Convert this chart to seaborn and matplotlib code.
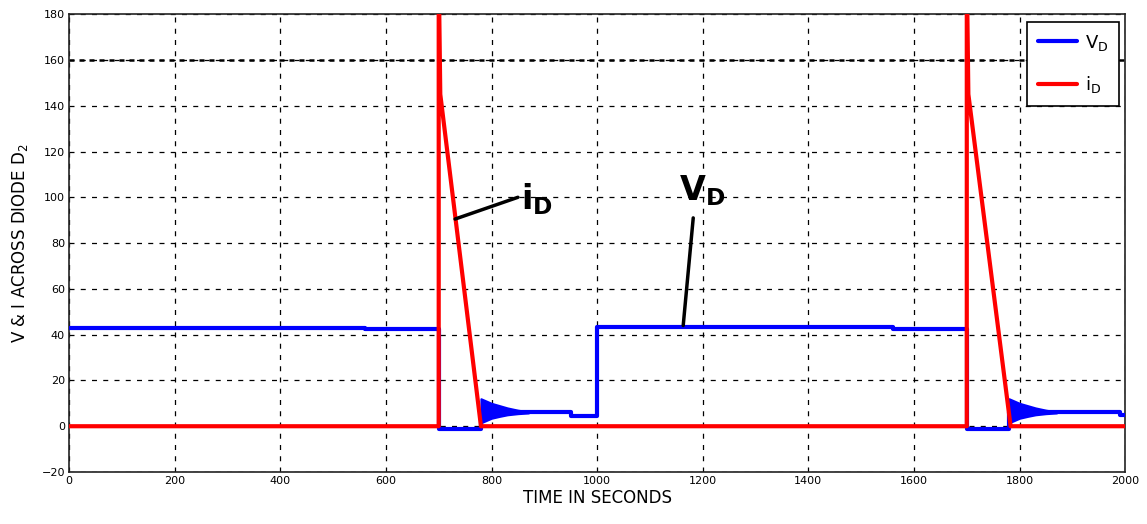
import matplotlib
matplotlib.use("Agg")
import matplotlib.pyplot as plt
import seaborn as sns
import pandas as pd

# ---- data ----
vd_t = [0, 560, 560, 700, 700, 780, 780, 850, 950, 950, 1000, 1000,
        1560, 1560, 1700, 1700, 1780, 1780, 1850, 1990, 1990, 2000]
vd_v = [43, 43, 42.5, 42.5, -1, -1, 6, 6, 6, 4.5, 4.5, 43.5,
        43.5, 42.5, 42.5, -1, -1, 6, 6, 6, 5, 5]

# ringing envelope after the current falls to zero
ring1_t = [780, 790, 800, 815, 830, 850, 870]
ring2_t = [1780, 1790, 1800, 1815, 1830, 1850, 1870]
ring_hi = [12, 11, 10, 9, 8, 7, 6.3]
ring_lo = [1.5, 2.5, 3.5, 4.3, 5, 5.5, 5.8]

id_t = [0, 700, 700, 703, 780, 1700, 1700, 1703, 1783, 2000]
id_v = [0, 0, 200, 145, 0, 0, 200, 145, 0, 0]

x_ticks = list(range(0, 2001, 200))
y_ticks = list(range(-20, 181, 20))

sns.set_style("white")
plt.rcParams["mathtext.fontset"] = "dejavusans"
plt.rcParams["text.color"] = "black"
plt.rcParams["axes.labelcolor"] = "black"
plt.rcParams["xtick.color"] = "black"
plt.rcParams["ytick.color"] = "black"

fig = plt.figure(figsize=(11.47, 5.24), dpi=100)
ax = fig.add_axes([0.0602, 0.0992, 0.9208, 0.8738])

blue = "#0000FF"
red = "#FF0000"

df_v = pd.DataFrame({"t": vd_t, "v": vd_v})
df_i = pd.DataFrame({"t": id_t, "v": id_v})

ax.fill_between(ring1_t, ring_lo, ring_hi, color=blue, lw=1.5, zorder=3)
ax.fill_between(ring2_t, ring_lo, ring_hi, color=blue, lw=1.5, zorder=3)
sns.lineplot(data=df_v, x="t", y="v", ax=ax, color=blue, lw=3,
             sort=False, estimator=None, label=r"V$_\mathrm{D}$", zorder=3)
sns.lineplot(data=df_i, x="t", y="v", ax=ax, color=red, lw=3,
             sort=False, estimator=None, label=r"i$_\mathrm{D}$", zorder=4)

ax.set_xlim(0, 2000)
ax.set_ylim(-20, 180)
ax.set_xticks(x_ticks)
ax.set_yticks(y_ticks)
ax.tick_params(labelsize=8, direction="in", length=4, width=1, pad=3,
               colors="black")
ax.grid(True, color="black", linestyle=(0, (4, 5)), linewidth=0.9)
ax.axhline(160, color="black", linestyle=(0, (2, 2)), linewidth=1.8, zorder=1)
for s in ax.spines.values():
    s.set_color("#222222")
    s.set_linewidth(1.2)

ax.set_xlabel("TIME IN SECONDS", fontsize=12, labelpad=2, color="black")
ax.set_ylabel(r"V & I ACROSS DIODE D$_{2}$", fontsize=12, labelpad=8,
              color="black")

# annotations
ax.plot([731, 850], [90.5, 100], color="black", lw=2.5, zorder=5)
ax.text(855, 99, r"$\mathbf{i}_{\mathbf{D}}$", fontsize=24, va="center",
        ha="left", zorder=6, color="black")
ax.plot([1182, 1163], [91, 44], color="black", lw=2.5, zorder=5)
ax.text(1155, 103, r"$\mathbf{V}_{\mathbf{D}}$", fontsize=24, va="center",
        ha="left", zorder=6, color="black")

leg = ax.legend(loc="upper right", fontsize=13, frameon=True, fancybox=False,
                borderpad=0.6, handlelength=2.2, handletextpad=0.4,
                labelspacing=1.2, borderaxespad=0,
                bbox_to_anchor=(0.994, 0.983))
leg.get_frame().set_edgecolor("black")
leg.get_frame().set_linewidth(1.2)
leg.get_frame().set_alpha(1)

fig.savefig("out.png", dpi=100)
